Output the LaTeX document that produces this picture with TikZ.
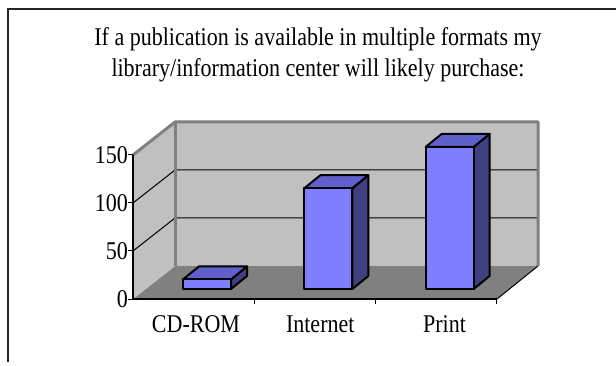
\documentclass[tikz,border=0pt]{standalone}
\usepackage{graphicx}
\usepackage{fontspec}
\setmainfont{Liberation Serif}
\definecolor{wallgray}{HTML}{C0C0C0}
\definecolor{floorgray}{HTML}{808080}
\definecolor{barfront}{HTML}{8080FF}
\definecolor{bartop}{HTML}{6060CC}
\definecolor{barside}{HTML}{404080}
\newcommand{\tallrow}[1]{\scalebox{1}[1.16]{#1}}
\tikzset{frame/.style={draw=black!85, line width=2pt},
  wall/.style={fill=wallgray},
  wall edge/.style={draw=floorgray, line width=3pt, line join=round},
  gridline/.style={draw=black, line width=1pt},
  axis/.style={draw=black, line width=1.8pt},
  tick/.style={draw=black, line width=1pt},
  barface/.style={draw=black, line width=2pt, line join=round},
  lbl/.style={font=\fontsize{22}{26}\selectfont, inner sep=0pt}}

\begin{document}
\begin{tikzpicture}[x=1pt,y=-1pt]
\useasboundingbox (0,0) rectangle (616,366);
\draw[frame] (616,9) -- (8,9) -- (8,362);
\node[lbl, anchor=base] (title1) at (318,46) {\tallrow{If a publication is available in multiple formats my}};
\node[lbl, anchor=base] (title2) at (318,77) {\tallrow{library/information center will likely purchase:}};
\coordinate (o) at (133,299);
\coordinate (ot) at (133,155);
\coordinate (bo) at (175,266);
\coordinate (bt) at (175,122);
\coordinate (br) at (538,266);
\coordinate (brt) at (538,122);
\coordinate (fr) at (497,299);
\fill[floorgray] (o) -- (bo) -- (br) -- (fr) -- cycle;
\fill[wall] (o) -- (ot) -- (bt) -- (bo) -- cycle;
\fill[wall] (bo) -- (bt) -- (brt) -- (br) -- cycle;
\foreach \v in {50,100}{
    \draw[gridline] (133,299-0.96*\v) -- (175,266-0.96*\v) -- (538,266-0.96*\v);
    }
\draw[wall edge] (ot) -- (bt) -- (brt) -- (br);
\draw[wall edge] (bt) -- (bo);
\draw[tick] (br) -- (fr);
\foreach \v[count=\n] in {0,50,100,150}{
    \draw[tick] (128,299-0.96*\v) -- (133,299-0.96*\v);
    \node[lbl, anchor=east] (v\n) at (128,299-0.96*\v) {\tallrow{\v}};
    }
\foreach \n in {1,2,3}{
    \draw[tick] (133+121.33*\n,299) -- (133+121.33*\n,304);
    }
\draw[axis] (ot) -- (o) -- (fr);
\foreach \c/\v[count=\n] in {CD-ROM/10,Internet/105,Print/148}{
    \pgfmathsetmacro\bx{133+121.33*(\n-1)+50}
    \pgfmathsetmacro\by{289-0.96*\v}
    \pgfmathsetmacro\cx{196+124.25*(\n-1)}
    \filldraw[barface, fill=barside] (\bx+48,\by) -- (\bx+64,\by-13) -- (\bx+64,276) -- (\bx+48,289) -- cycle;
    \filldraw[barface, fill=bartop] (\bx,\by) -- (\bx+16,\by-13) -- (\bx+64,\by-13) -- (\bx+48,\by) -- cycle;
    \filldraw[barface, fill=barfront] (\bx,\by) rectangle (\bx+48,289);
    \node[lbl, anchor=base] (c\n) at (\cx,332) {\tallrow{\c}};
    }
\end{tikzpicture}
\end{document}
